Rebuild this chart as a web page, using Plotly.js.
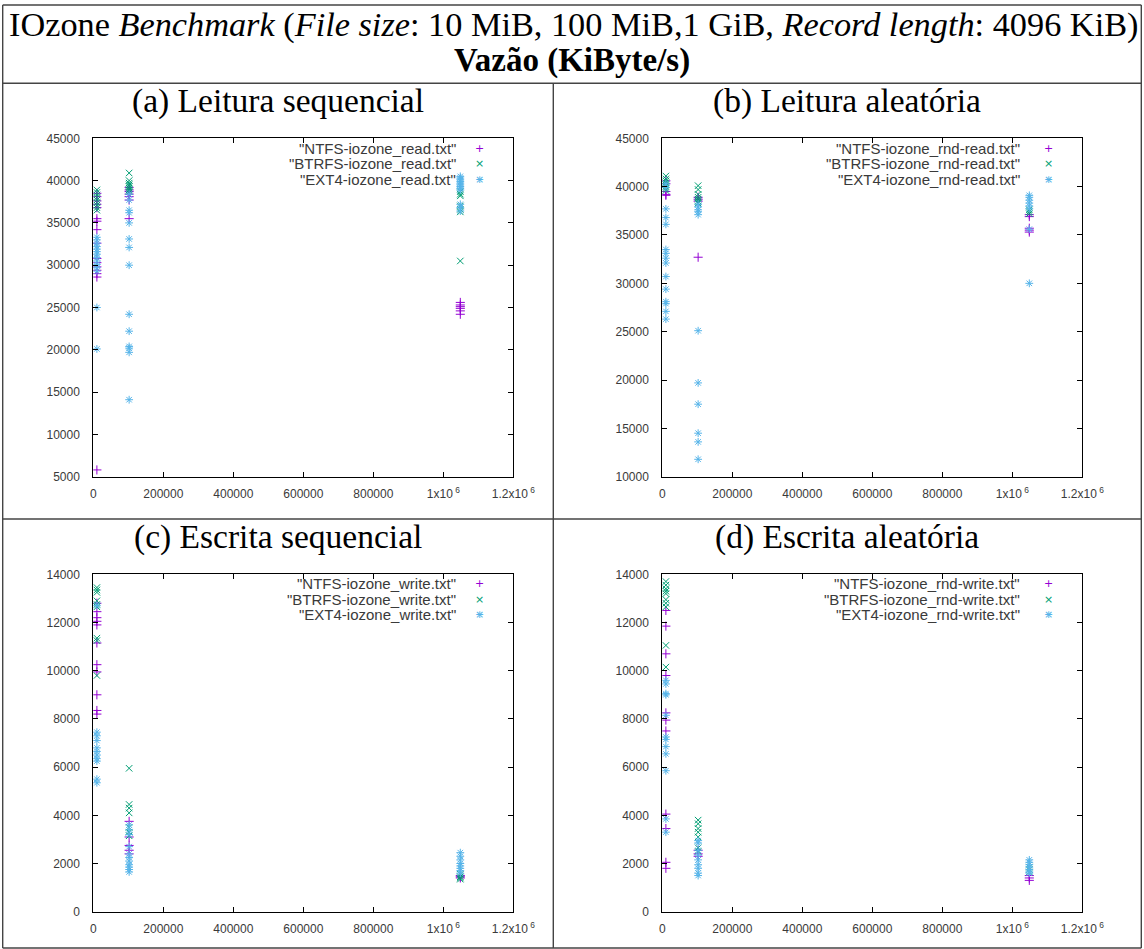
<!DOCTYPE html>
<html>
<head>
<meta charset="utf-8">
<script src="https://cdn.plot.ly/plotly-3.0.1.min.js"></script>
<style>html,body{margin:0;padding:0;background:#fff;}#chart{width:1144px;height:949px;}</style>
</head>
<body>
<div id="chart"></div>
<script>
// ---------------- DATA ----------------
const fileSizesKiB = [10240, 102400, 1048576]; // 10 MiB, 100 MiB, 1 GiB
const fsNames = ["NTFS", "BTRFS", "EXT4"];

// (a) Leitura sequencial  [10 MiB], [100 MiB], [1 GiB]
const seqRead_NTFS  = [[38500,38100,37600,37200,36800,35500,35200,34200,32600,30800,30300,29800,29400,29000,28600,5800],
                       [39200,38900,38700,38400,38100,37700,35500],
                       [25600,25300,25100,24900,24600,24200]];
const seqRead_BTRFS = [[38900,38600,38300,38000,37700,37400,37100,36800,36500],
                       [40900,40000,39700,39500,39300,39100,38900,38700],
                       [38700,38400,38200,37000,36600,36300,30500]];
const seqRead_EXT4  = [[33300,33000,32600,32200,31900,31600,31300,30900,30500,30100,29700,29300,25000,20100],
                       [38400,37700,36500,36200,35000,33100,32100,30000,24200,22200,20400,20200,19700,14100],
                       [40500,40300,40100,39900,39700,39500,39300,39100,38900,37200,36800,36400]];

// (b) Leitura aleatória
const rndRead_NTFS  = [[40600,40300,39500,39200,39100],
                       [38900,38700,38500,32700],
                       [37100,36900,35700,35500,35300]];
const rndRead_BTRFS = [[41100,40800,40600,40400,40200,40000,39800,39600],
                       [40100,39700,39200,38900,38700,38500,38300],
                       [37600,37400,37200]];
const rndRead_EXT4  = [[40300,39900,37700,36800,36100,33500,33100,32600,32100,30700,29400,28100,27900,27100,26300],
                       [38200,37900,37600,37400,37100,25100,19700,17500,14500,13600,11800],
                       [39100,38900,38600,38300,38000,37700,35600,30000]];

// (c) Escrita sequencial
const seqWrite_NTFS  = [[12800,12450,12200,12050,11900,11150,10250,9950,9000,8350,8200],
                        [3750,3100,2750,2550,2400],
                        [1500,1450,1400]];
const seqWrite_BTRFS = [[13450,13350,13250,12900,12750,12650,11350,11250,9800],
                        [5950,4450,4300,4100,3500,3300,3150],
                        [1550,1450,1400,1350]];
const seqWrite_EXT4  = [[12700,7450,7300,7100,6800,6650,6500,6350,6250,5500,5350],
                        [3600,3400,3200,2700,2400,2250,2100,1950,1850,1750,1650],
                        [2450,2300,2150,2000,1900,1800,1700,1600]];

// (d) Escrita aleatória
const rndWrite_NTFS  = [[12500,11850,10700,9800,8250,7950,7500,4050,3450,2050,1800],
                        [2550,2400,2300],
                        [1500,1400,1300]];
const rndWrite_BTRFS = [[13700,13550,13400,13300,13200,12950,12800,12650,11050,10150],
                        [3800,3650,3450,3300,3100,2650,2500],
                        [1850,1750,1650]];
const rndWrite_EXT4  = [[9600,9450,9050,9000,8150,7250,7150,6850,6550,5850,3850,3300],
                        [2950,2850,2550,2350,2150,1950,1800,1600,1500],
                        [2150,2050,1950,1850,1750,1650,1600]];

const xTickVals = [0, 200000, 400000, 600000, 800000, 1000000, 1200000];
const xTickText = ["0", "200000", "400000", "600000", "800000", "1x10<sup> 6</sup>", "1.2x10<sup> 6</sup>"];

const legendFiles = {
  a: ['"NTFS-iozone_read.txt"', '"BTRFS-iozone_read.txt"', '"EXT4-iozone_read.txt"'],
  b: ['"NTFS-iozone_rnd-read.txt"', '"BTRFS-iozone_rnd-read.txt"', '"EXT4-iozone_rnd-read.txt"'],
  c: ['"NTFS-iozone_write.txt"', '"BTRFS-iozone_write.txt"', '"EXT4-iozone_write.txt"'],
  d: ['"NTFS-iozone_rnd-write.txt"', '"BTRFS-iozone_rnd-write.txt"', '"EXT4-iozone_rnd-write.txt"']
};
const panelTitles = ["(a) Leitura sequencial", "(b) Leitura aleatória", "(c) Escrita sequencial", "(d) Escrita aleatória"];

// ---------------- STYLE / LAYOUT ----------------
const W = 1144, H = 949;
const px = x => x / W;
const py = y => 1 - y / H;

const colors = ["#9400D3", "#009E73", "#56B4E9"];
const symbols = ["cross-thin-open", "x-thin-open", "asterisk-open"];

const panels = [
  {key:'a', xa:'x',  ya:'y',  left:93.3,  right:513.3,  top:138.3, bottom:476.7, yrange:[5000,45000], dtick:5000,
   series:[seqRead_NTFS, seqRead_BTRFS, seqRead_EXT4], txtRight:458, symX:479, legY:148.3, headY:101, headX:277.8},
  {key:'b', xa:'x2', ya:'y2', left:662.3, right:1082.3, top:138.3, bottom:476.7, yrange:[10000,45000], dtick:5000,
   series:[rndRead_NTFS, rndRead_BTRFS, rndRead_EXT4], txtRight:1022, symX:1048, legY:148.3, headY:101, headX:847},
  {key:'c', xa:'x3', ya:'y3', left:93.3,  right:513.3,  top:574.3, bottom:911.7, yrange:[0,14000], dtick:2000,
   series:[seqWrite_NTFS, seqWrite_BTRFS, seqWrite_EXT4], txtRight:458, symX:479, legY:583.8, headY:537, headX:277.8},
  {key:'d', xa:'x4', ya:'y4', left:662.3, right:1082.3, top:574.3, bottom:911.7, yrange:[0,14000], dtick:2000,
   series:[rndWrite_NTFS, rndWrite_BTRFS, rndWrite_EXT4], txtRight:1022, symX:1048, legY:583.8, headY:537, headX:847}
];

const tickFont = {family: "Liberation Sans, Arial, sans-serif", size: 12, color: "#3a3a3a"};
const legFont = {family: "Liberation Sans, Arial, sans-serif", size: 15, color: "#3a3a3a"};
const serif = "Liberation Serif, Times New Roman, serif";

const traces = [];
const layout = {
  width: W, height: H,
  margin: {l:0, r:0, t:0, b:0},
  paper_bgcolor: "#ffffff", plot_bgcolor: "#ffffff",
  showlegend: false,
  annotations: [], shapes: []
};

panels.forEach((p, i) => {
  const n = i === 0 ? '' : String(i + 1);
  p.series.forEach((s, k) => {
    const xs = [], ys = [];
    s.forEach((vals, j) => vals.forEach(v => { xs.push(fileSizesKiB[j]); ys.push(v); }));
    traces.push({
      type: 'scatter', mode: 'markers', x: xs, y: ys, xaxis: p.xa, yaxis: p.ya,
      name: fsNames[k], hoverinfo: 'x+y',
      marker: {symbol: symbols[k], size: 6.5, color: colors[k], line: {color: colors[k], width: 1}}
    });
  });
  layout['xaxis' + n] = {
    domain: [px(p.left), px(p.right)], anchor: p.ya, range: [0, 1200000],
    tickvals: xTickVals, ticktext: xTickText, ticks: 'inside', ticklen: 5, tickcolor: '#000',
    showline: true, linecolor: '#000', linewidth: 1, mirror: 'ticks', showgrid: false, zeroline: false,
    tickfont: tickFont, ticklabelstandoff: 6, fixedrange: true
  };
  layout['yaxis' + n] = {
    domain: [py(p.bottom), py(p.top)], anchor: p.xa, range: p.yrange, dtick: p.dtick, tick0: 0,
    tickformat: 'd',
    ticks: 'inside', ticklen: 5, tickcolor: '#000',
    showline: true, linecolor: '#000', linewidth: 1, mirror: 'ticks', showgrid: false, zeroline: false,
    tickfont: tickFont, ticklabelstandoff: 10, fixedrange: true
  };
  // legend (gnuplot style: text right-aligned, symbol on the right)
  legendFiles[p.key].forEach((t, k) => {
    const yy = p.legY + k * 15.5;
    layout.annotations.push({xref:'paper', yref:'paper', x: px(p.txtRight), y: py(yy), xanchor:'right', yanchor:'middle',
      text: t, showarrow: false, font: legFont});
    const glyphs = k === 0 ? ['+'] : (k === 1 ? ['×'] : ['+', '×']);
    glyphs.forEach(g => layout.annotations.push({xref:'paper', yref:'paper', x: px(p.symX), y: py(yy), xanchor:'center', yanchor:'middle',
      text: g, showarrow: false, font: {family: "DejaVu Sans, sans-serif", size: 11, color: colors[k]}}));
  });
  // panel header
  layout.annotations.push({xref:'paper', yref:'paper', x: px(p.headX), y: py(p.headY), xanchor:'center', yanchor:'middle',
    text: panelTitles[i], showarrow: false, font: {family: serif, size: 33.5, color: '#000'}});
});

// Main titles
layout.annotations.push({xref:'paper', yref:'paper', x: px(573), y: py(24), xanchor:'center', yanchor:'middle',
  text: 'IOzone <i>Benchmark</i> (<i>File size</i>: 10 MiB, 100 MiB,1 GiB, <i>Record length</i>: 4096 KiB)',
  showarrow: false, font: {family: serif, size: 34.3, color: '#000'}});
layout.annotations.push({xref:'paper', yref:'paper', x: px(572), y: py(60), xanchor:'center', yanchor:'middle',
  text: '<b>Vazão (KiByte/s)</b>', showarrow: false, font: {family: serif, size: 33, color: '#000'}});

// Table borders
const lc = {color: '#444', width: 1.4};
const seg = (x0, y0, x1, y1) => ({type:'line', xref:'paper', yref:'paper', x0: px(x0), y0: py(y0), x1: px(x1), y1: py(y1), line: lc, layer:'above'});
layout.shapes.push(seg(2.7, 5, 1141.3, 5));
layout.shapes.push(seg(2.7, 948, 1141.3, 948));
layout.shapes.push(seg(2.7, 5, 2.7, 948));
layout.shapes.push(seg(1141.3, 5, 1141.3, 948));
layout.shapes.push(seg(2.7, 83.3, 1141.3, 83.3));
layout.shapes.push(seg(2.7, 519, 1141.3, 519));
layout.shapes.push(seg(553.3, 83.3, 553.3, 948));

Plotly.newPlot('chart', traces, layout, {displayModeBar: false, staticPlot: true});
</script>
</body>
</html>
